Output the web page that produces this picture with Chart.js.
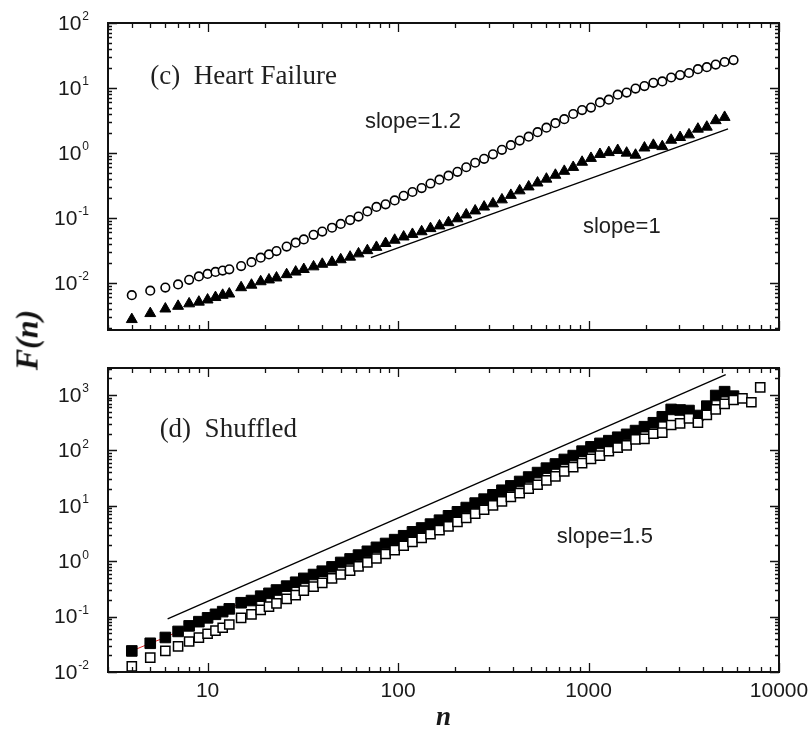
<!DOCTYPE html>
<html>
<head>
<meta charset="utf-8">
<script src="https://cdn.jsdelivr.net/npm/chart.js@4.4.1/dist/chart.umd.min.js"></script>
<style>
  body { margin: 0; background: #fff; }
  #wrap { position: relative; width: 811px; height: 732px; }
  #wrap canvas { position: absolute; left: 0; }
  #ytitle {
    position: absolute; left: 27px; top: 340px;
    transform: translate(-50%, -50%) rotate(-90deg);
    font: italic bold 32px "Liberation Serif", serif; color: #111; white-space: nowrap;
  }
</style>
</head>
<body>
<div id="wrap">
  <canvas id="chartTop" width="811" height="350" style="top:0"></canvas>
  <canvas id="chartBottom" width="811" height="382" style="top:350px"></canvas>
  <div id="ytitle">F(n)</div>
</div>
<script>
// box sizes n, panel (c)
var nTop = [4,5,6,7,8,9,10,11,12,13,15,17,19,21,23,26,29,32,36,40,45,50,56,62,69,77,86,96,107,119,
  133,148,165,184,205,228,254,283,315,351,391,435,485,540,601,670,746,831,925,1030,
  1148,1278,1423,1585,1765,1966,2190,2439,2716,3025,3369,3752,4178,4653,5182,5772];

// F(n) heart failure, open circles
var heartOpen = [0.0065,0.0076,0.0085,0.0095,0.0112,0.0126,0.0138,0.0148,0.0155,0.0162,
  0.0182,0.0209,0.0245,0.0275,0.031,0.0363,0.0417,0.0468,0.055,0.0617,
  0.0708,0.081,0.093,0.105,0.126,0.148,0.162,0.186,0.219,0.251,
  0.288,0.339,0.389,0.447,0.513,0.603,0.708,0.813,0.955,1.12,
  1.32,1.55,1.78,2.09,2.45,2.88,3.31,3.98,4.57,5.0,
  6.0,6.6,7.9,8.5,9.8,10.7,12.0,12.6,14.5,15.8,
  17.0,19.5,20.9,22.9,25.1,26.9];

// F(n) heart failure, filled triangles
var heartFilled = [0.00275,0.0034,0.0040,0.0044,0.0048,0.0051,0.0055,0.0060,0.0065,0.0068,
  0.0085,0.0093,0.0105,0.0112,0.0120,0.0135,0.0148,0.0162,0.0178,0.0195,
  0.0209,0.0229,0.0251,0.0282,0.0316,0.0355,0.0407,0.0457,0.0513,0.0562,
  0.0617,0.069,0.0759,0.0851,0.0977,0.112,0.129,0.148,0.166,0.191,
  0.224,0.263,0.302,0.347,0.398,0.457,0.525,0.603,0.724,0.83,
  0.955,1.02,1.10,1.00,0.93,1.20,1.32,1.26,1.58,1.74,
  1.91,2.34,2.51,3.16,3.55,null];

// slope=1 reference line (end points)
var fitTopN = [72, 5400];
var fitTopF = [0.0245, 2.35];

// panel (d) shuffled
var nBottom = [4,5,6,7,8,9,10,11,12,13,15,17,19,21,23,26,29,32,36,40,45,50,56,62,69,77,86,96,107,119,
  133,148,165,184,205,228,254,283,315,351,391,435,485,540,601,670,746,831,925,1030,
  1148,1278,1423,1585,1765,1966,2190,2439,2716,3025,3369,3752,4178,4653,5182,5772,6428,7160,7970];

var shufFilled = [0.024,0.033,0.042,0.054,0.068,0.081,0.095,0.110,0.123,0.138,
  0.178,0.195,0.234,0.263,0.302,0.355,0.417,0.49,0.575,0.66,
  0.79,0.95,1.10,1.29,1.51,1.78,2.09,2.45,2.88,3.39,
  3.98,4.68,5.50,6.6,7.8,9.3,11.2,13.2,15.8,19.1,
  22.9,27.5,33.1,39.8,47.9,56.9,68.7,80.6,97,116,
  134,150,173,195,228,268,316,405,550,537,
  525,427,630,980,1150,955,null,null,null];

var shufOpen = [0.0126,0.0182,0.024,0.029,0.0355,0.0417,0.049,0.056,0.063,0.072,
  0.095,0.110,0.132,0.151,0.174,0.209,0.245,0.295,0.347,0.407,
  0.49,0.575,0.676,0.81,0.95,1.12,1.35,1.58,1.90,2.24,
  2.63,3.09,3.63,4.27,5.13,6.03,7.24,8.5,10.2,12.0,
  14.5,17.0,20.4,24.0,28.8,33.9,41.7,50.1,58.9,70.6,
  80.6,97,112,123,158,162,200,209,288,309,
  380,316,437,550,692,813,871,741,1380];

// slope=1.5 reference line (end points)
var fitBottomN = [6.17, 5250];
var fitBottomF = [0.0912, 2340];

var xTickLabels = ['10', '100', '1000', '10000'];

function pts(xs, ys) {
  var out = [];
  for (var i = 0; i < xs.length; i++) {
    if (ys[i] !== null) out.push({ x: xs[i], y: ys[i] });
  }
  return out;
}

function logTicks(min, max) {
  var out = [];
  for (var e = Math.floor(Math.log10(min)); e <= Math.ceil(Math.log10(max)); e++) {
    var d = Math.pow(10, e);
    for (var m = 1; m <= 9; m++) {
      var v = m * d;
      if (v >= min * 0.999 && v <= max * 1.001) out.push({ v: v, major: m === 1, e: e });
    }
  }
  return out;
}

// draws the box, inward ticks on all sides, 10^k labels and text notes
var framePlugin = {
  id: 'frame',
  afterDatasetsDraw: function (chart, args, opts) {
    var ctx = chart.ctx, a = chart.chartArea;
    var x = chart.scales.x, y = chart.scales.y;
    ctx.save();
    ctx.strokeStyle = '#111';
    ctx.lineWidth = 1.3;
    ctx.beginPath();
    logTicks(x.min, x.max).forEach(function (t) {
      var p = Math.round(x.getPixelForValue(t.v)) + 0.5;
      var L = t.major ? 9 : 5;
      ctx.moveTo(p, a.bottom); ctx.lineTo(p, a.bottom - L);
      ctx.moveTo(p, a.top); ctx.lineTo(p, a.top + L);
    });
    logTicks(y.min, y.max).forEach(function (t) {
      var p = Math.round(y.getPixelForValue(t.v)) + 0.5;
      var L = t.major ? 9 : 4;
      ctx.moveTo(a.left, p); ctx.lineTo(a.left + L, p);
      ctx.moveTo(a.right, p); ctx.lineTo(a.right - L, p);
    });
    ctx.stroke();

    ctx.lineWidth = 2;
    ctx.strokeRect(a.left, a.top, a.right - a.left, a.bottom - a.top);

    // y labels 10^k
    ctx.fillStyle = '#1a1a1a';
    ctx.textBaseline = 'middle';
    ctx.textAlign = 'left';
    logTicks(y.min, y.max).forEach(function (t) {
      if (!t.major) return;
      var py = y.getPixelForValue(t.v);
      var sup = t.e < 0 ? '-' + (-t.e) : String(t.e);
      ctx.font = '21px "Liberation Sans", Arial, sans-serif';
      var wb = ctx.measureText('10').width;
      ctx.font = '12px "Liberation Sans", Arial, sans-serif';
      var ws = ctx.measureText(sup).width;
      var x0 = a.left - 20 - wb - ws;
      ctx.font = '21px "Liberation Sans", Arial, sans-serif';
      ctx.fillText('10', x0, py + 1);
      ctx.font = '12px "Liberation Sans", Arial, sans-serif';
      ctx.fillText(sup, x0 + wb + 1, py - 6);
    });

    // x labels
    if (opts.xLabels) {
      ctx.font = '21px "Liberation Sans", Arial, sans-serif';
      ctx.textAlign = 'center';
      xTickLabels.forEach(function (lab) {
        ctx.fillText(lab, x.getPixelForValue(Number(lab)), a.bottom + 19);
      });
    }
    if (opts.xTitle) {
      ctx.font = 'italic bold 27px "Liberation Serif", serif';
      ctx.textAlign = 'center';
      ctx.fillText(opts.xTitle, (a.left + a.right) / 2, a.bottom + 46);
    }

    // notes
    ctx.textAlign = 'left';
    (opts.notes || []).forEach(function (nt) {
      ctx.font = nt.font;
      ctx.fillStyle = '#1f1f1f';
      ctx.fillText(nt.text, x.getPixelForValue(nt.n), y.getPixelForValue(nt.f));
    });
    ctx.restore();
  }
};

function makeChart(id, datasets, yMin, yMax, padding, frameOpts) {
  return new Chart(document.getElementById(id).getContext('2d'), {
    type: 'scatter',
    data: { datasets: datasets },
    options: {
      responsive: false,
      animation: false,
      layout: { padding: padding },
      scales: {
        x: { type: 'logarithmic', min: 3, max: 10000, display: false },
        y: { type: 'logarithmic', min: yMin, max: yMax, display: false }
      },
      plugins: {
        legend: { display: false },
        tooltip: { enabled: false },
        frame: frameOpts
      }
    },
    plugins: [framePlugin]
  });
}

makeChart('chartTop', [
  {
    label: 'Heart Failure (open)',
    data: pts(nTop, heartOpen),
    pointStyle: 'circle', pointRadius: 4.3, pointBorderWidth: 1.6,
    pointBorderColor: '#000', pointBackgroundColor: '#fff'
  },
  {
    label: 'Heart Failure (filled)',
    data: pts(nTop, heartFilled),
    pointStyle: 'triangle', pointRadius: 6.3, pointBorderWidth: 1,
    pointBorderColor: '#000', pointBackgroundColor: '#000'
  },
  {
    label: 'slope=1',
    data: pts(fitTopN, fitTopF),
    showLine: true, borderColor: '#000', borderWidth: 1.3, pointRadius: 0
  }
], 0.00189, 100, { left: 108, right: 32, top: 23, bottom: 20 }, {
  xLabels: false,
  notes: [
    { text: '(c)  Heart Failure', n: 5.0, f: 14.8, font: '27px "Liberation Serif", serif' },
    { text: 'slope=1.2', n: 67, f: 3.0, font: '22px "Liberation Sans", Arial, sans-serif' },
    { text: 'slope=1', n: 935, f: 0.073, font: '22px "Liberation Sans", Arial, sans-serif' }
  ]
});

makeChart('chartBottom', [
  {
    label: 'Shuffled (open)',
    data: pts(nBottom, shufOpen),
    pointStyle: 'rect', pointRadius: 6.5, pointBorderWidth: 1.5,
    pointBorderColor: '#000', pointBackgroundColor: '#fff'
  },
  {
    label: 'Shuffled (filled)',
    data: pts(nBottom, shufFilled),
    showLine: true, borderColor: '#e02020', borderWidth: 1,
    pointStyle: 'rect', pointRadius: 7.5, pointBorderWidth: 1,
    pointBorderColor: '#000', pointBackgroundColor: '#000'
  },
  {
    label: 'slope=1.5',
    data: pts(fitBottomN, fitBottomF),
    showLine: true, borderColor: '#000', borderWidth: 1.3, pointRadius: 0
  }
], 0.01, 3076, { left: 108, right: 32, top: 18, bottom: 60 }, {
  xLabels: true,
  xTitle: 'n',
  notes: [
    { text: '(d)  Shuffled', n: 5.6, f: 234, font: '27px "Liberation Serif", serif' },
    { text: 'slope=1.5', n: 682, f: 2.74, font: '22px "Liberation Sans", Arial, sans-serif' }
  ]
});
</script>
</body>
</html>
